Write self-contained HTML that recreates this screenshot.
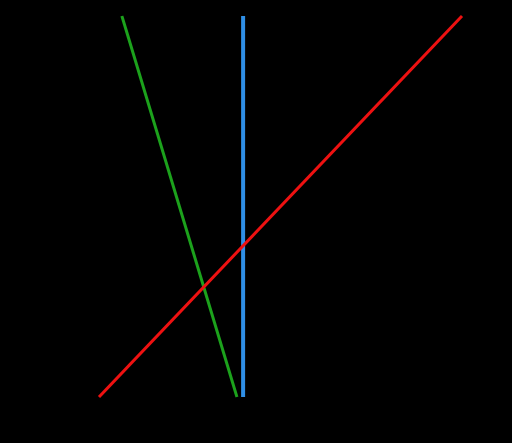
<!DOCTYPE html>
<html><head><meta charset="utf-8"><style>
html,body{margin:0;padding:0;background:#000;}
svg{display:block;}
</style></head><body>
<svg id="chart" width="512" height="443" xmlns="http://www.w3.org/2000/svg">
<rect width="512" height="443" fill="#000"></rect>
<g id="series"></g>
</svg>
<script>
const seriesNames = ["green-line", "blue-line", "red-line"];
const seriesColors = ["#1ca21c", "#2f8fe6", "#ee1111"];
const seriesX = [[0.63, 3.80], [3.97, 3.97], [0, 10]];
const seriesY = [[10, 0], [10, 0], [0, 10]];
function xs(v){ return 99 + v * 36.3; }
function ys(v){ return 397 - v * 38.1; }
const g = document.getElementById('series');
const NS = "http://www.w3.org/2000/svg";
for (let i = 0; i < seriesNames.length; i++) {
  const l = document.createElementNS(NS, 'line');
  l.setAttribute('x1', xs(seriesX[i][0]));
  l.setAttribute('y1', ys(seriesY[i][0]));
  l.setAttribute('x2', xs(seriesX[i][1]));
  l.setAttribute('y2', ys(seriesY[i][1]));
  l.setAttribute('stroke', seriesColors[i]);
  l.setAttribute('stroke-width', i === 1 ? 4 : 3);
  
  
  g.appendChild(l);
}
</script>
</body></html>
